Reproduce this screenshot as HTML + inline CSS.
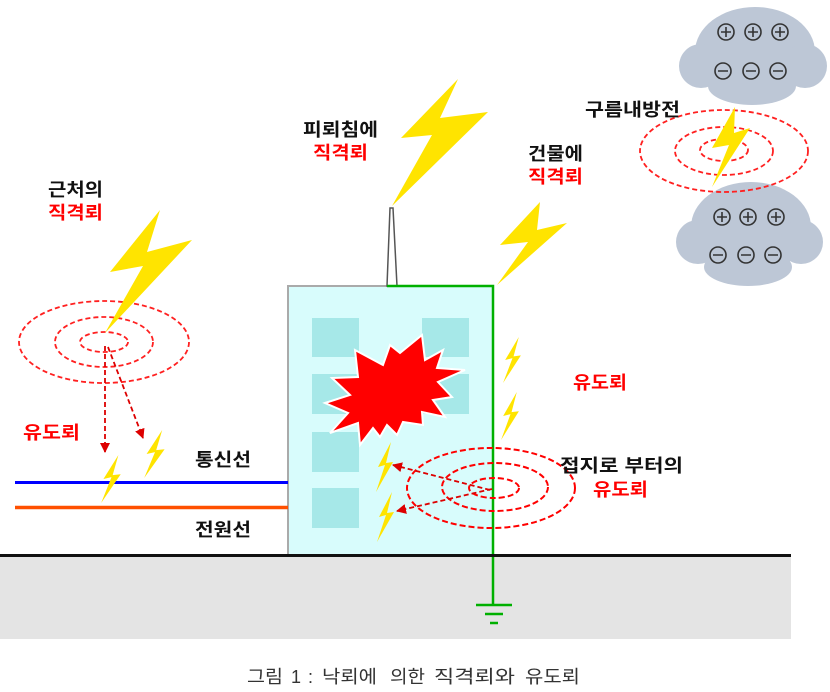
<!DOCTYPE html>
<html><head><meta charset="utf-8">
<style>
html,body{margin:0;padding:0;background:#fff;}
svg{display:block;}
.t{font-family:"Liberation Sans","Noto Sans CJK KR",sans-serif;font-weight:bold;font-size:18px;}
.k{fill:#111;}
.r{fill:#ff0000;}
.cap{font-family:"Liberation Sans","Noto Sans CJK KR",sans-serif;font-size:18px;fill:#333;}
</style></head>
<body>
<svg width="830" height="692" viewBox="0 0 830 692" xmlns="http://www.w3.org/2000/svg">
<defs>
  <polygon id="sb" points="16,0 3,25 10,23 1,50 18,20 11,21" fill="#ffe400"/>
  <marker id="ah" markerWidth="10" markerHeight="10" refX="9" refY="5" orient="auto" markerUnits="userSpaceOnUse">
    <path d="M0,0 L10,5 L0,10 Z" fill="#dd0000"/>
  </marker>
</defs>

<!-- ground -->
<rect x="0" y="557" width="791" height="82" fill="#e4e4e4"/>

<!-- building -->
<rect x="288" y="286" width="205" height="269" fill="#d8fcfc"/>
<g fill="#a6e8e8">
  <rect x="312" y="318" width="47" height="39"/>
  <rect x="422" y="318" width="47" height="39"/>
  <rect x="312" y="374" width="47" height="40"/>
  <rect x="422" y="374" width="47" height="40"/>
  <rect x="312" y="432" width="47" height="40"/>
  <rect x="312" y="488" width="47" height="40"/>
</g>
<polyline points="288,555 288,286 387,286" fill="none" stroke="#aaa" stroke-width="2"/>
<!-- antenna -->
<polygon points="387,286 390,208 393,208 397,286" fill="#fff" stroke="#555" stroke-width="1.5"/>
<!-- ground wire -->
<polyline points="387,286 493,286 493,606" fill="none" stroke="#00b000" stroke-width="2.5"/>
<line x1="476" y1="605" x2="512" y2="605" stroke="#00b000" stroke-width="2.5"/>
<line x1="485" y1="614" x2="503" y2="614" stroke="#00b000" stroke-width="2.5"/>
<line x1="490" y1="623" x2="498" y2="623" stroke="#00b000" stroke-width="2.5"/>

<!-- ground line -->
<line x1="0" y1="555.5" x2="791" y2="555.5" stroke="#111" stroke-width="3"/>

<!-- starburst -->
<polygon points="325,403 350,395 332,378 358,377 355,350 383,365 390,345 400,353 422,335 425,360 443,350 437,368 465,370 438,382 452,397 433,400 445,417 422,412 423,425 403,422 397,435 387,425 380,437 373,428 360,445 358,423 330,433 348,413"
 fill="#ff0000" stroke="#fff" stroke-width="2" stroke-linejoin="miter"/>

<!-- wires -->
<line x1="15" y1="482.5" x2="288" y2="482.5" stroke="#0000ff" stroke-width="3"/>
<line x1="15" y1="507.5" x2="288" y2="507.5" stroke="#ff5000" stroke-width="3.5"/>

<!-- clouds -->
<g fill="#bdc7d6">
  <ellipse cx="755" cy="52" rx="60" ry="45"/>
  <circle cx="701" cy="66" r="22"/>
  <circle cx="805" cy="66" r="22"/>
  <ellipse cx="752" cy="86" rx="44" ry="19"/>
  <ellipse cx="751" cy="227" rx="60" ry="45"/>
  <circle cx="698" cy="242" r="22"/>
  <circle cx="801" cy="242" r="22"/>
  <ellipse cx="748" cy="267" rx="44" ry="19"/>
</g>
<g fill="none" stroke="#333" stroke-width="1.6">
  <circle cx="726" cy="32" r="8"/><circle cx="753" cy="32" r="8"/><circle cx="780" cy="32" r="8"/>
  <path d="M721,32h10M726,27v10M748,32h10M753,27v10M775,32h10M780,27v10"/>
  <circle cx="723" cy="71" r="8"/><circle cx="751" cy="71" r="8"/><circle cx="778" cy="71" r="8"/>
  <path d="M718,71h10M746,71h10M773,71h10"/>
  <circle cx="722" cy="217" r="8"/><circle cx="748" cy="217" r="8"/><circle cx="776" cy="217" r="8"/>
  <path d="M717,217h10M722,212v10M743,217h10M748,212v10M771,217h10M776,212v10"/>
  <circle cx="718" cy="255" r="8"/><circle cx="746" cy="255" r="8"/><circle cx="773" cy="255" r="8"/>
  <path d="M713,255h10M741,255h10M768,255h10"/>
</g>

<!-- dashed ellipses -->
<g fill="none" stroke="#ff2020" stroke-width="1.8" stroke-dasharray="5 3">
  <ellipse cx="104" cy="342" rx="85" ry="41"/>
  <ellipse cx="104" cy="342" rx="49" ry="25"/>
  <ellipse cx="104" cy="342" rx="24" ry="10"/>
  <ellipse cx="724" cy="151" rx="84" ry="41"/>
  <ellipse cx="724" cy="151" rx="49" ry="24"/>
  <ellipse cx="724" cy="150" rx="24" ry="11"/>
</g>
<g fill="none" stroke="#ff0000" stroke-width="2" stroke-dasharray="6 3">
  <ellipse cx="491" cy="488" rx="84" ry="40"/>
  <ellipse cx="495" cy="487" rx="53" ry="24"/>
  <ellipse cx="494" cy="488" rx="25" ry="10"/>
</g>

<!-- arrows -->
<g fill="none" stroke="#dd0000" stroke-width="1.8" stroke-dasharray="5 3">
  <line x1="105" y1="346" x2="105" y2="452" marker-end="url(#ah)"/>
  <line x1="108" y1="347" x2="143" y2="438" marker-end="url(#ah)"/>
  <line x1="490" y1="490" x2="393" y2="465" marker-end="url(#ah)"/>
  <line x1="492" y1="489" x2="397" y2="511" marker-end="url(#ah)"/>
</g>

<!-- big bolts -->
<g fill="#ffe400">
  <polygon points="458,79 401,138 432,135 392,206 488,112 440,118"/>
  <polygon points="540,202 500,245 528,242 497,285 567,223 537,230"/>
  <polygon points="160,210 110,272 143,266 105,333 192,240 147,252"/>
  <polygon points="735,107 712,148 729,145 712,187 750,128 734,133"/>
</g>
<!-- small bolts -->
<use href="#sb" transform="translate(100,455) scale(1.15,0.96)"/>
<use href="#sb" transform="translate(143,430) scale(1.2,0.96)"/>
<use href="#sb" transform="translate(375,442)"/>
<use href="#sb" transform="translate(376,492)"/>
<use href="#sb" transform="translate(502,337) scale(1.05,0.92)"/>
<use href="#sb" transform="translate(500,392) scale(1.05,0.96)"/>

<!-- labels -->
<text class="t k" x="48" y="196" textLength="55" lengthAdjust="spacingAndGlyphs">근처의</text>
<text class="t r" x="48" y="219" textLength="55" lengthAdjust="spacingAndGlyphs">직격뢰</text>
<text class="t r" x="23" y="439" textLength="57" lengthAdjust="spacingAndGlyphs">유도뢰</text>
<text class="t k" x="195" y="466" textLength="56" lengthAdjust="spacingAndGlyphs">통신선</text>
<text class="t k" x="195" y="536" textLength="56" lengthAdjust="spacingAndGlyphs">전원선</text>
<text class="t k" x="303" y="136" textLength="75" lengthAdjust="spacingAndGlyphs">피뢰침에</text>
<text class="t r" x="313" y="159" textLength="55" lengthAdjust="spacingAndGlyphs">직격뢰</text>
<text class="t k" x="528" y="160" textLength="55" lengthAdjust="spacingAndGlyphs">건물에</text>
<text class="t r" x="528" y="183" textLength="55" lengthAdjust="spacingAndGlyphs">직격뢰</text>
<text class="t k" x="585" y="116" textLength="95" lengthAdjust="spacingAndGlyphs">구름내방전</text>
<text class="t r" x="573" y="389" textLength="54" lengthAdjust="spacingAndGlyphs">유도뢰</text>
<text class="t k" x="560" y="472" textLength="123" lengthAdjust="spacingAndGlyphs">접지로 부터의</text>
<text class="t r" x="593" y="496" textLength="55" lengthAdjust="spacingAndGlyphs">유도뢰</text>

<!-- caption -->
<text class="cap" x="247" y="683" textLength="36" lengthAdjust="spacingAndGlyphs">그림</text>
<text class="cap" x="291" y="683">1</text>
<text class="cap" x="308" y="683">:</text>
<text class="cap" x="322" y="683" textLength="55" lengthAdjust="spacingAndGlyphs">낙뢰에</text>
<text class="cap" x="390" y="683" textLength="35" lengthAdjust="spacingAndGlyphs">의한</text>
<text class="cap" x="434" y="683" textLength="81" lengthAdjust="spacingAndGlyphs">직격뢰와</text>
<text class="cap" x="525" y="683" textLength="55" lengthAdjust="spacingAndGlyphs">유도뢰</text>
</svg>
</body></html>
